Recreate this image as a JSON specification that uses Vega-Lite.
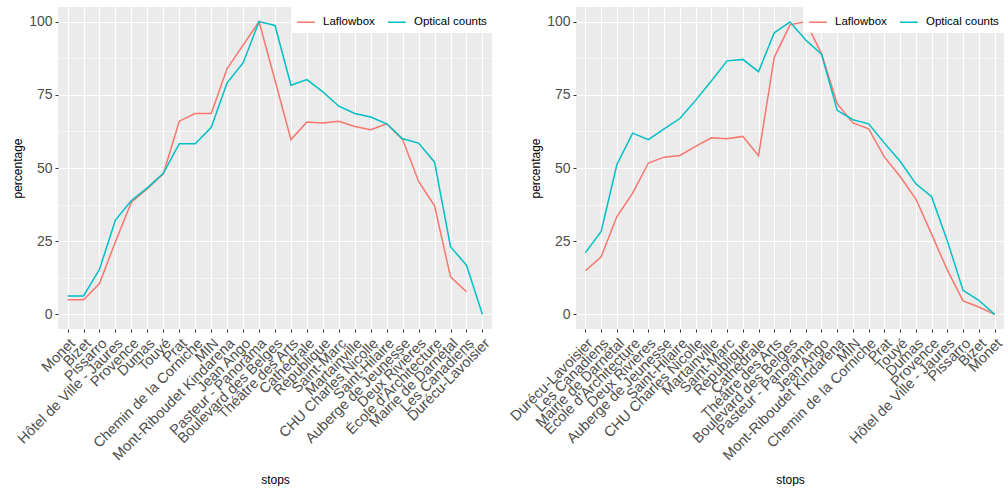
{
  "$schema": "https://vega.github.io/schema/vega-lite/v6.json",
  "background": "white",
  "padding": {"left": 11, "top": 7, "right": 0, "bottom": 0},
  "bounds": "flush",
  "spacing": 84,
  "config": {
    "font": "Liberation Sans",
    "view": {"fill": "#EBEBEB", "stroke": null},
    "axis": {
      "domain": false,
      "grid": true,
      "gridColor": "white",
      "tickColor": "#333333",
      "tickSize": 3,
      "labelColor": "#4D4D4D",
      "titleColor": "black",
      "titleFontWeight": "normal",
      "titleFontSize": 12
    },
    "legend": {
      "orient": "top-right",
      "direction": "horizontal",
      "fillColor": "white",
      "padding": 5,
      "offset": 0,
      "symbolType": "stroke",
      "symbolSize": 320,
      "symbolStrokeWidth": 1.5,
      "labelFontSize": 11.5,
      "labelColor": "black",
      "labelOffset": 7,
      "columnPadding": 10
    }
  },
  "resolve": {"scale": {"x": "independent", "y": "independent", "color": "independent"}, "legend": {"color": "independent"}},
  "datasets": {
    "rows": [
      {"panel": "L", "stop": "Monet", "source": "Laflowbox", "percentage": 5},
      {"panel": "L", "stop": "Bizet", "source": "Laflowbox", "percentage": 5},
      {"panel": "L", "stop": "Pissarro", "source": "Laflowbox", "percentage": 10.5},
      {"panel": "L", "stop": "Hôtel de Ville - Jaures", "source": "Laflowbox", "percentage": 24.8},
      {"panel": "L", "stop": "Provence", "source": "Laflowbox", "percentage": 38.3},
      {"panel": "L", "stop": "Dumas", "source": "Laflowbox", "percentage": 42.9},
      {"panel": "L", "stop": "Touyé", "source": "Laflowbox", "percentage": 48},
      {"panel": "L", "stop": "Prat", "source": "Laflowbox", "percentage": 66},
      {"panel": "L", "stop": "Chemin de la Corniche", "source": "Laflowbox", "percentage": 68.6},
      {"panel": "L", "stop": "MIN", "source": "Laflowbox", "percentage": 68.6},
      {"panel": "L", "stop": "Mont-Riboudet Kindarena", "source": "Laflowbox", "percentage": 84},
      {"panel": "L", "stop": "Jean Ango", "source": "Laflowbox", "percentage": 92},
      {"panel": "L", "stop": "Pasteur - Panorama", "source": "Laflowbox", "percentage": 100},
      {"panel": "L", "stop": "Boulevard des Belges", "source": "Laflowbox", "percentage": 80},
      {"panel": "L", "stop": "Théâtre des Arts", "source": "Laflowbox", "percentage": 59.7},
      {"panel": "L", "stop": "Cathédrale", "source": "Laflowbox", "percentage": 65.7},
      {"panel": "L", "stop": "République", "source": "Laflowbox", "percentage": 65.4},
      {"panel": "L", "stop": "Saint-Marc", "source": "Laflowbox", "percentage": 66},
      {"panel": "L", "stop": "Martainville", "source": "Laflowbox", "percentage": 64.2},
      {"panel": "L", "stop": "CHU Charles Nicolle", "source": "Laflowbox", "percentage": 63.1},
      {"panel": "L", "stop": "Saint-Hilaire", "source": "Laflowbox", "percentage": 65.1},
      {"panel": "L", "stop": "Auberge de Jeunesse", "source": "Laflowbox", "percentage": 59.7},
      {"panel": "L", "stop": "Deux Rivières", "source": "Laflowbox", "percentage": 45.4},
      {"panel": "L", "stop": "École d'Architecture", "source": "Laflowbox", "percentage": 37.1},
      {"panel": "L", "stop": "Mairie de Darnétal", "source": "Laflowbox", "percentage": 12.8},
      {"panel": "L", "stop": "Les Canadiens", "source": "Laflowbox", "percentage": 7.7},
      {"panel": "L", "stop": "Monet", "source": "Optical counts", "percentage": 6.3},
      {"panel": "L", "stop": "Bizet", "source": "Optical counts", "percentage": 6.3},
      {"panel": "L", "stop": "Pissarro", "source": "Optical counts", "percentage": 15.4},
      {"panel": "L", "stop": "Hôtel de Ville - Jaures", "source": "Optical counts", "percentage": 32.2},
      {"panel": "L", "stop": "Provence", "source": "Optical counts", "percentage": 38.9},
      {"panel": "L", "stop": "Dumas", "source": "Optical counts", "percentage": 43.2},
      {"panel": "L", "stop": "Touyé", "source": "Optical counts", "percentage": 48.2},
      {"panel": "L", "stop": "Prat", "source": "Optical counts", "percentage": 58.3},
      {"panel": "L", "stop": "Chemin de la Corniche", "source": "Optical counts", "percentage": 58.3},
      {"panel": "L", "stop": "MIN", "source": "Optical counts", "percentage": 63.8},
      {"panel": "L", "stop": "Mont-Riboudet Kindarena", "source": "Optical counts", "percentage": 79.1},
      {"panel": "L", "stop": "Jean Ango", "source": "Optical counts", "percentage": 85.9},
      {"panel": "L", "stop": "Pasteur - Panorama", "source": "Optical counts", "percentage": 100},
      {"panel": "L", "stop": "Boulevard des Belges", "source": "Optical counts", "percentage": 98.7},
      {"panel": "L", "stop": "Théâtre des Arts", "source": "Optical counts", "percentage": 78.3},
      {"panel": "L", "stop": "Cathédrale", "source": "Optical counts", "percentage": 80.2},
      {"panel": "L", "stop": "République", "source": "Optical counts", "percentage": 76},
      {"panel": "L", "stop": "Saint-Marc", "source": "Optical counts", "percentage": 71.1},
      {"panel": "L", "stop": "Martainville", "source": "Optical counts", "percentage": 68.6},
      {"panel": "L", "stop": "CHU Charles Nicolle", "source": "Optical counts", "percentage": 67.4},
      {"panel": "L", "stop": "Saint-Hilaire", "source": "Optical counts", "percentage": 65.1},
      {"panel": "L", "stop": "Auberge de Jeunesse", "source": "Optical counts", "percentage": 60},
      {"panel": "L", "stop": "Deux Rivières", "source": "Optical counts", "percentage": 58.5},
      {"panel": "L", "stop": "École d'Architecture", "source": "Optical counts", "percentage": 52},
      {"panel": "L", "stop": "Mairie de Darnétal", "source": "Optical counts", "percentage": 23.1},
      {"panel": "L", "stop": "Les Canadiens", "source": "Optical counts", "percentage": 16.8},
      {"panel": "L", "stop": "Durécu-Lavoisier", "source": "Optical counts", "percentage": 0},
      {"panel": "R", "stop": "Durécu-Lavoisier", "source": "Laflowbox", "percentage": 14.9},
      {"panel": "R", "stop": "Les Canadiens", "source": "Laflowbox", "percentage": 19.7},
      {"panel": "R", "stop": "Mairie de Darnétal", "source": "Laflowbox", "percentage": 33.4},
      {"panel": "R", "stop": "École d'Architecture", "source": "Laflowbox", "percentage": 41.4},
      {"panel": "R", "stop": "Deux Rivières", "source": "Laflowbox", "percentage": 51.7},
      {"panel": "R", "stop": "Auberge de Jeunesse", "source": "Laflowbox", "percentage": 53.7},
      {"panel": "R", "stop": "Saint-Hilaire", "source": "Laflowbox", "percentage": 54.3},
      {"panel": "R", "stop": "CHU Charles Nicolle", "source": "Laflowbox", "percentage": 57.4},
      {"panel": "R", "stop": "Martainville", "source": "Laflowbox", "percentage": 60.3},
      {"panel": "R", "stop": "Saint-Marc", "source": "Laflowbox", "percentage": 60},
      {"panel": "R", "stop": "République", "source": "Laflowbox", "percentage": 60.8},
      {"panel": "R", "stop": "Cathédrale", "source": "Laflowbox", "percentage": 54.2},
      {"panel": "R", "stop": "Théâtre des Arts", "source": "Laflowbox", "percentage": 87.8},
      {"panel": "R", "stop": "Boulevard des Belges", "source": "Laflowbox", "percentage": 98.9},
      {"panel": "R", "stop": "Pasteur - Panorama", "source": "Laflowbox", "percentage": 100},
      {"panel": "R", "stop": "Jean Ango", "source": "Laflowbox", "percentage": 89.1},
      {"panel": "R", "stop": "Mont-Riboudet Kindarena", "source": "Laflowbox", "percentage": 72},
      {"panel": "R", "stop": "MIN", "source": "Laflowbox", "percentage": 65.4},
      {"panel": "R", "stop": "Chemin de la Corniche", "source": "Laflowbox", "percentage": 63.4},
      {"panel": "R", "stop": "Prat", "source": "Laflowbox", "percentage": 53.7},
      {"panel": "R", "stop": "Touyé", "source": "Laflowbox", "percentage": 47.1},
      {"panel": "R", "stop": "Dumas", "source": "Laflowbox", "percentage": 39.4},
      {"panel": "R", "stop": "Provence", "source": "Laflowbox", "percentage": 27.4},
      {"panel": "R", "stop": "Hôtel de Ville - Jaures", "source": "Laflowbox", "percentage": 15.1},
      {"panel": "R", "stop": "Pissarro", "source": "Laflowbox", "percentage": 4.6},
      {"panel": "R", "stop": "Bizet", "source": "Laflowbox", "percentage": 2.5},
      {"panel": "R", "stop": "Monet", "source": "Laflowbox", "percentage": 0},
      {"panel": "R", "stop": "Durécu-Lavoisier", "source": "Optical counts", "percentage": 21.1},
      {"panel": "R", "stop": "Les Canadiens", "source": "Optical counts", "percentage": 28.3},
      {"panel": "R", "stop": "Mairie de Darnétal", "source": "Optical counts", "percentage": 51.2},
      {"panel": "R", "stop": "École d'Architecture", "source": "Optical counts", "percentage": 61.9},
      {"panel": "R", "stop": "Deux Rivières", "source": "Optical counts", "percentage": 59.7},
      {"panel": "R", "stop": "Auberge de Jeunesse", "source": "Optical counts", "percentage": 63.4},
      {"panel": "R", "stop": "Saint-Hilaire", "source": "Optical counts", "percentage": 66.9},
      {"panel": "R", "stop": "CHU Charles Nicolle", "source": "Optical counts", "percentage": 73.1},
      {"panel": "R", "stop": "Martainville", "source": "Optical counts", "percentage": 79.7},
      {"panel": "R", "stop": "Saint-Marc", "source": "Optical counts", "percentage": 86.6},
      {"panel": "R", "stop": "République", "source": "Optical counts", "percentage": 87.1},
      {"panel": "R", "stop": "Cathédrale", "source": "Optical counts", "percentage": 82.9},
      {"panel": "R", "stop": "Théâtre des Arts", "source": "Optical counts", "percentage": 96.2},
      {"panel": "R", "stop": "Boulevard des Belges", "source": "Optical counts", "percentage": 99.9},
      {"panel": "R", "stop": "Pasteur - Panorama", "source": "Optical counts", "percentage": 93.7},
      {"panel": "R", "stop": "Jean Ango", "source": "Optical counts", "percentage": 88.9},
      {"panel": "R", "stop": "Mont-Riboudet Kindarena", "source": "Optical counts", "percentage": 69.7},
      {"panel": "R", "stop": "MIN", "source": "Optical counts", "percentage": 66.5},
      {"panel": "R", "stop": "Chemin de la Corniche", "source": "Optical counts", "percentage": 65.1},
      {"panel": "R", "stop": "Prat", "source": "Optical counts", "percentage": 58.5},
      {"panel": "R", "stop": "Touyé", "source": "Optical counts", "percentage": 52.3},
      {"panel": "R", "stop": "Dumas", "source": "Optical counts", "percentage": 44.6},
      {"panel": "R", "stop": "Provence", "source": "Optical counts", "percentage": 40.2},
      {"panel": "R", "stop": "Hôtel de Ville - Jaures", "source": "Optical counts", "percentage": 25.1},
      {"panel": "R", "stop": "Pissarro", "source": "Optical counts", "percentage": 8.2},
      {"panel": "R", "stop": "Bizet", "source": "Optical counts", "percentage": 4.8},
      {"panel": "R", "stop": "Monet", "source": "Optical counts", "percentage": 0}
    ]
  },
  "hconcat": [
    {
      "width": 434,
      "height": 322,
      "data": {"name": "rows"},
      "transform": [{"filter": "datum.panel === 'L'"}],
      "mark": {"type": "line", "strokeWidth": 1.5},
      "encoding": {
        "x": {
          "field": "stop", "type": "nominal", "title": "stops",
          "sort": ["Monet", "Bizet", "Pissarro", "Hôtel de Ville - Jaures", "Provence", "Dumas", "Touyé", "Prat", "Chemin de la Corniche", "MIN", "Mont-Riboudet Kindarena", "Jean Ango", "Pasteur - Panorama", "Boulevard des Belges", "Théâtre des Arts", "Cathédrale", "République", "Saint-Marc", "Martainville", "CHU Charles Nicolle", "Saint-Hilaire", "Auberge de Jeunesse", "Deux Rivières", "École d'Architecture", "Mairie de Darnétal", "Les Canadiens", "Durécu-Lavoisier"],
          "scale": {"type": "point", "padding": 0.6},
          "axis": {"labelAngle": -45, "labelAlign": "right", "labelBaseline": "top", "labelFontSize": 14.5, "labelPadding": 4, "labelOverlap": false, "labelBound": false, "labelLimit": 400, "titlePadding": 12, "gridWidth": 1.1}
        },
        "y": {
          "field": "percentage", "type": "quantitative", "title": "percentage",
          "scale": {"domain": [-5, 105], "nice": false, "zero": false},
          "axis": {
            "values": [0, 12.5, 25, 37.5, 50, 62.5, 75, 87.5, 100],
            "labelExpr": "datum.value % 25 === 0 ? datum.label : ''",
            "labelFontSize": 14, "labelPadding": 3, "titlePadding": 4,
            "gridWidth": {"condition": {"test": "datum.value % 25 !== 0", "value": 0.55}, "value": 1.1},
            "tickOpacity": {"condition": {"test": "datum.value % 25 !== 0", "value": 0}, "value": 1}
          }
        },
        "color": {
          "field": "source", "type": "nominal",
          "scale": {"domain": ["Laflowbox", "Optical counts"], "range": ["#F8766D", "#00BFC4"]},
          "legend": {"title": null}
        }
      }
    },
    {
      "width": 428,
      "height": 322,
      "data": {"name": "rows"},
      "transform": [{"filter": "datum.panel === 'R'"}],
      "mark": {"type": "line", "strokeWidth": 1.5},
      "encoding": {
        "x": {
          "field": "stop", "type": "nominal", "title": "stops",
          "sort": ["Durécu-Lavoisier", "Les Canadiens", "Mairie de Darnétal", "École d'Architecture", "Deux Rivières", "Auberge de Jeunesse", "Saint-Hilaire", "CHU Charles Nicolle", "Martainville", "Saint-Marc", "République", "Cathédrale", "Théâtre des Arts", "Boulevard des Belges", "Pasteur - Panorama", "Jean Ango", "Mont-Riboudet Kindarena", "MIN", "Chemin de la Corniche", "Prat", "Touyé", "Dumas", "Provence", "Hôtel de Ville - Jaures", "Pissarro", "Bizet", "Monet"],
          "scale": {"type": "point", "padding": 0.6},
          "axis": {"labelAngle": -45, "labelAlign": "right", "labelBaseline": "top", "labelFontSize": 14.5, "labelPadding": 4, "labelOverlap": false, "labelBound": false, "labelLimit": 400, "titlePadding": 12, "gridWidth": 1.1}
        },
        "y": {
          "field": "percentage", "type": "quantitative", "title": "percentage",
          "scale": {"domain": [-5, 105], "nice": false, "zero": false},
          "axis": {
            "values": [0, 12.5, 25, 37.5, 50, 62.5, 75, 87.5, 100],
            "labelExpr": "datum.value % 25 === 0 ? datum.label : ''",
            "labelFontSize": 14, "labelPadding": 3, "titlePadding": 4,
            "gridWidth": {"condition": {"test": "datum.value % 25 !== 0", "value": 0.55}, "value": 1.1},
            "tickOpacity": {"condition": {"test": "datum.value % 25 !== 0", "value": 0}, "value": 1}
          }
        },
        "color": {
          "field": "source", "type": "nominal",
          "scale": {"domain": ["Laflowbox", "Optical counts"], "range": ["#F8766D", "#00BFC4"]},
          "legend": {"title": null}
        }
      }
    }
  ]
}
